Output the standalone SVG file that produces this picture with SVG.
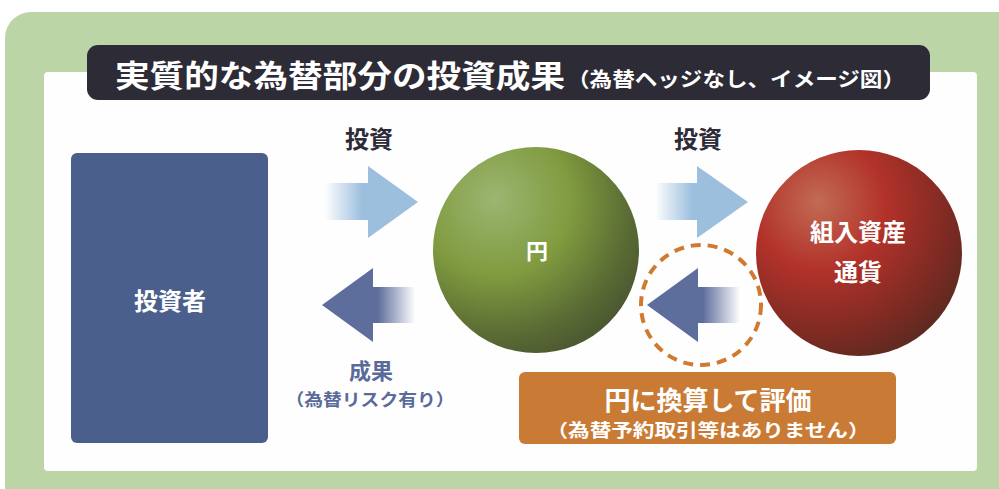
<svg xmlns="http://www.w3.org/2000/svg" width="999" height="489" viewBox="0 0 999 489">
<defs>
<style>
.jp{font-family:"Noto Sans CJK JP","Noto Sans CJK SC",sans-serif;font-weight:bold;text-anchor:middle}
.w{fill:#ffffff}
</style>
<radialGradient id="gGreen" cx="0.32" cy="0.28" r="0.8" fx="0.3" fy="0.25">
<stop offset="0" stop-color="#9bb672"/>
<stop offset="0.45" stop-color="#809b3f"/>
<stop offset="0.8" stop-color="#5a6b34"/>
<stop offset="1" stop-color="#4a5530"/>
</radialGradient>
<radialGradient id="gRed" cx="0.32" cy="0.28" r="0.8" fx="0.3" fy="0.25">
<stop offset="0" stop-color="#c26b55"/>
<stop offset="0.4" stop-color="#b2322a"/>
<stop offset="0.8" stop-color="#7a2a22"/>
<stop offset="1" stop-color="#5a2a20"/>
</radialGradient>
<linearGradient id="gLight" x1="0" y1="0" x2="1" y2="0">
<stop offset="0" stop-color="#9dbfde" stop-opacity="0"/>
<stop offset="0.4" stop-color="#9dbfde"/>
<stop offset="1" stop-color="#9dbfde"/>
</linearGradient>
<linearGradient id="gDark" x1="1" y1="0" x2="0" y2="0">
<stop offset="0" stop-color="#5d6d9c" stop-opacity="0"/>
<stop offset="0.4" stop-color="#5d6d9c"/>
<stop offset="1" stop-color="#5d6d9c"/>
</linearGradient>
</defs>
<rect width="999" height="489" fill="#ffffff"/>
<rect x="5" y="12" width="1020" height="500" rx="26" fill="#bcd5a6"/>
<rect x="44" y="72" width="933" height="399" rx="4" fill="#fefefe"/>
<g id="title">
<rect x="87" y="45" width="843" height="55" rx="11" fill="#2c2b36"/>
<text x="115" y="87" class="jp w" style="text-anchor:start" font-size="31" textLength="450" lengthAdjust="spacingAndGlyphs">実質的な為替部分の投資成果</text>
<text x="567" y="87" class="jp w" style="text-anchor:start" font-size="20" textLength="338" lengthAdjust="spacingAndGlyphs">（為替ヘッジなし、イメージ図）</text>
</g>
<g id="connectors">
<g id="arrow-invest-1">
<path d="M325,183 H368 V166 L418,202 L368,238 V220 H325 Z" fill="url(#gLight)"/>
<text x="369" y="148" class="jp" font-size="24" fill="#2c2b36">投資</text>
</g>
<g id="arrow-invest-2">
<path d="M655,183 H697 V166 L748,202 L697,238 V220 H655 Z" fill="url(#gLight)"/>
<text x="698" y="148" class="jp" font-size="24" fill="#2c2b36">投資</text>
</g>
<g id="arrow-result">
<path d="M415,287 H373 V268 L322,305 L373,342 V323 H415 Z" fill="url(#gDark)"/>
<text x="371" y="379" class="jp" font-size="22" fill="#5a6a9a">成果</text>
<text x="370" y="406" class="jp" font-size="17" fill="#5a6a9a" textLength="169" lengthAdjust="spacingAndGlyphs">（為替リスク有り）</text>
</g>
<g id="arrow-convert">
<path d="M740,287 H698 V268 L647,305 L698,342 V323 H740 Z" fill="url(#gDark)"/>
<circle cx="701" cy="305" r="60" fill="none" stroke="#d07a30" stroke-width="4" stroke-dasharray="10 7"/>
</g>
</g>
<g id="investor">
<rect x="71" y="153" width="197" height="290" rx="6" fill="#4a5f8c"/>
<text x="170" y="310" class="jp w" font-size="24">投資者</text>
</g>
<g id="yen">
<circle cx="536" cy="250" r="103" fill="url(#gGreen)"/>
<text x="537" y="259" class="jp w" font-size="22">円</text>
</g>
<g id="foreign">
<circle cx="859" cy="253" r="103" fill="url(#gRed)"/>
<text x="858" y="241" class="jp w" font-size="24">組入資産</text>
<text x="858" y="281" class="jp w" font-size="24">通貨</text>
</g>
<g id="evaluate">
<rect x="519" y="372" width="377" height="72" rx="6" fill="#c97b35"/>
<text x="708" y="410" class="jp w" font-size="26">円に換算して評価</text>
<text x="708" y="437" class="jp w" font-size="18" textLength="323" lengthAdjust="spacingAndGlyphs">（為替予約取引等はありません）</text>
</g>
</svg>
